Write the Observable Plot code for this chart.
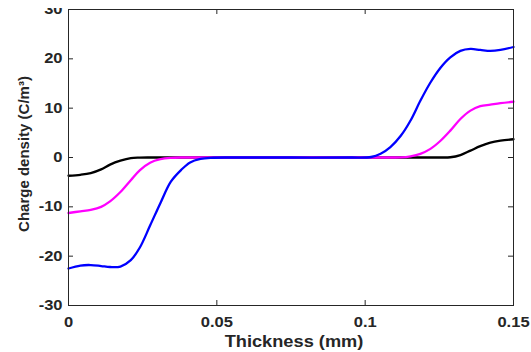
<!DOCTYPE html>
<html>
<head>
<meta charset="utf-8">
<script src="https://cdn.jsdelivr.net/npm/d3@7"></script>
<script src="https://cdn.jsdelivr.net/npm/@observablehq/plot@0.6"></script>
<style>
  html, body { margin: 0; padding: 0; background: white; }
  #chart { padding-top: 8px; }
  #chart svg { overflow: hidden; }
</style>
</head>
<body>
<div id="chart"></div>
<script>
// ---- data ----
const thickness = [0, 0.004, 0.0075, 0.011, 0.014, 0.0175, 0.021, 0.024, 0.0275, 0.031, 0.0345, 0.038, 0.041, 0.0445, 0.048, 0.055, 0.075, 0.095, 0.102, 0.1052, 0.1085, 0.112, 0.1153, 0.1186, 0.122, 0.1254, 0.1287, 0.1321, 0.1355, 0.1388, 0.1422, 0.1456, 0.15];
const blackSeries = [-3.7, -3.5, -3.15, -2.4, -1.45, -0.65, -0.12, -0.02, 0, 0, 0, 0, 0, 0, 0, 0, 0, 0, 0, 0, 0, 0, 0, 0, 0, 0, 0.05, 0.5, 1.4, 2.3, 3.0, 3.4, 3.7];
const magentaSeries = [-11.25, -10.9, -10.6, -10.0, -8.9, -7.0, -4.6, -2.6, -1.05, -0.35, -0.08, 0, 0, 0, 0, 0, 0, 0, 0, 0, 0, 0.02, 0.25, 0.75, 1.75, 3.4, 5.45, 7.8, 9.5, 10.4, 10.7, 11.0, 11.3];
const blueSeries = [-22.5, -21.9, -21.8, -22.0, -22.2, -22.1, -20.8, -18.3, -13.8, -9.2, -4.9, -2.5, -1.0, -0.3, -0.06, 0, 0, 0, 0.1, 0.75, 2.1, 4.4, 7.5, 11.5, 15.2, 18.2, 20.3, 21.6, 22.0, 21.8, 21.6, 21.8, 22.4];
const seriesNames = ["black", "magenta", "blue"];
const seriesColors = ["#000000", "#ff00ff", "#0000ff"];
const xTicks = [0, 0.05, 0.1, 0.15];
const yTicks = [-30, -20, -10, 0, 10, 20, 30];
const xLabel = "Thickness (mm)";
const yLabel = "Charge density (C/m\u00b3)";

// ---- build table ----
const allSeries = [blackSeries, magentaSeries, blueSeries];
const rows = [];
allSeries.forEach((vals, si) => {
  vals.forEach((v, i) => rows.push({series: seriesNames[si], x: thickness[i], y: v}));
});

const W = 531, H = 344;
const mL = 68, mR = 18, mT = 1, mB = 47;
const plotW = W - mL - mR, plotH = H - mT - mB;
const tickLen = 5;
const ink = "#262626";

const chart = Plot.plot({
  width: W, height: H,
  marginLeft: mL, marginRight: mR, marginTop: mT, marginBottom: mB,
  style: {fontFamily: "Liberation Sans, Arial, sans-serif", fontWeight: "bold", fontSize: "14px", color: ink, background: "white"},
  x: {domain: [0, 0.15]},
  y: {domain: [-30, 30]},
  color: {domain: seriesNames, range: seriesColors},
  marks: [
    Plot.axisX(xTicks, {tickSize: 0, tickPadding: 12, tickFormat: d => String(d), label: null, fontSize: 14}),
    Plot.axisY(yTicks, {tickSize: 0, tickPadding: 6, tickFormat: d => String(d), label: null, fontSize: 14}),
    // inward ticks (box style)
    Plot.tickY(yTicks, {y: d => d, insetRight: plotW - tickLen, stroke: ink}),
    Plot.tickY(yTicks, {y: d => d, insetLeft: plotW - tickLen, stroke: ink}),
    Plot.tickX(xTicks, {x: d => d, insetTop: plotH - tickLen, stroke: ink}),
    Plot.tickX(xTicks, {x: d => d, insetBottom: plotH - tickLen, stroke: ink}),
    Plot.line(rows, {x: "x", y: "y", z: "series", stroke: "series", strokeWidth: 2.3, curve: "catmull-rom"}),
    Plot.frame({stroke: ink, strokeWidth: 1}),
    Plot.text([xLabel], {frameAnchor: "bottom", textAnchor: "middle", lineAnchor: "middle", dx: 3, dy: 36, fontSize: 16, fill: ink}),
    Plot.text([yLabel], {frameAnchor: "left", textAnchor: "middle", lineAnchor: "middle", dx: -44, dy: -3.5, rotate: -90, fontSize: 15, fill: ink})
  ]
});
document.getElementById("chart").appendChild(chart);

// widen horizontally-laid text to match the reference's wider glyphs
d3.select(chart).selectAll("text").each(function() {
  const t = this.getAttribute("transform") || "";
  if (t.includes("rotate")) return;
  const isLabel = this.textContent === xLabel;
  const s = isLabel ? 1.14 : 1.18;
  if (t) {
    this.setAttribute("transform", t + ` scale(${s},1)`);
  } else {
    const x = +(this.getAttribute("x") || 0);
    this.setAttribute("transform", `translate(${x},0) scale(${s},1) translate(${-x},0)`);
  }
});
</script>
</body>
</html>
